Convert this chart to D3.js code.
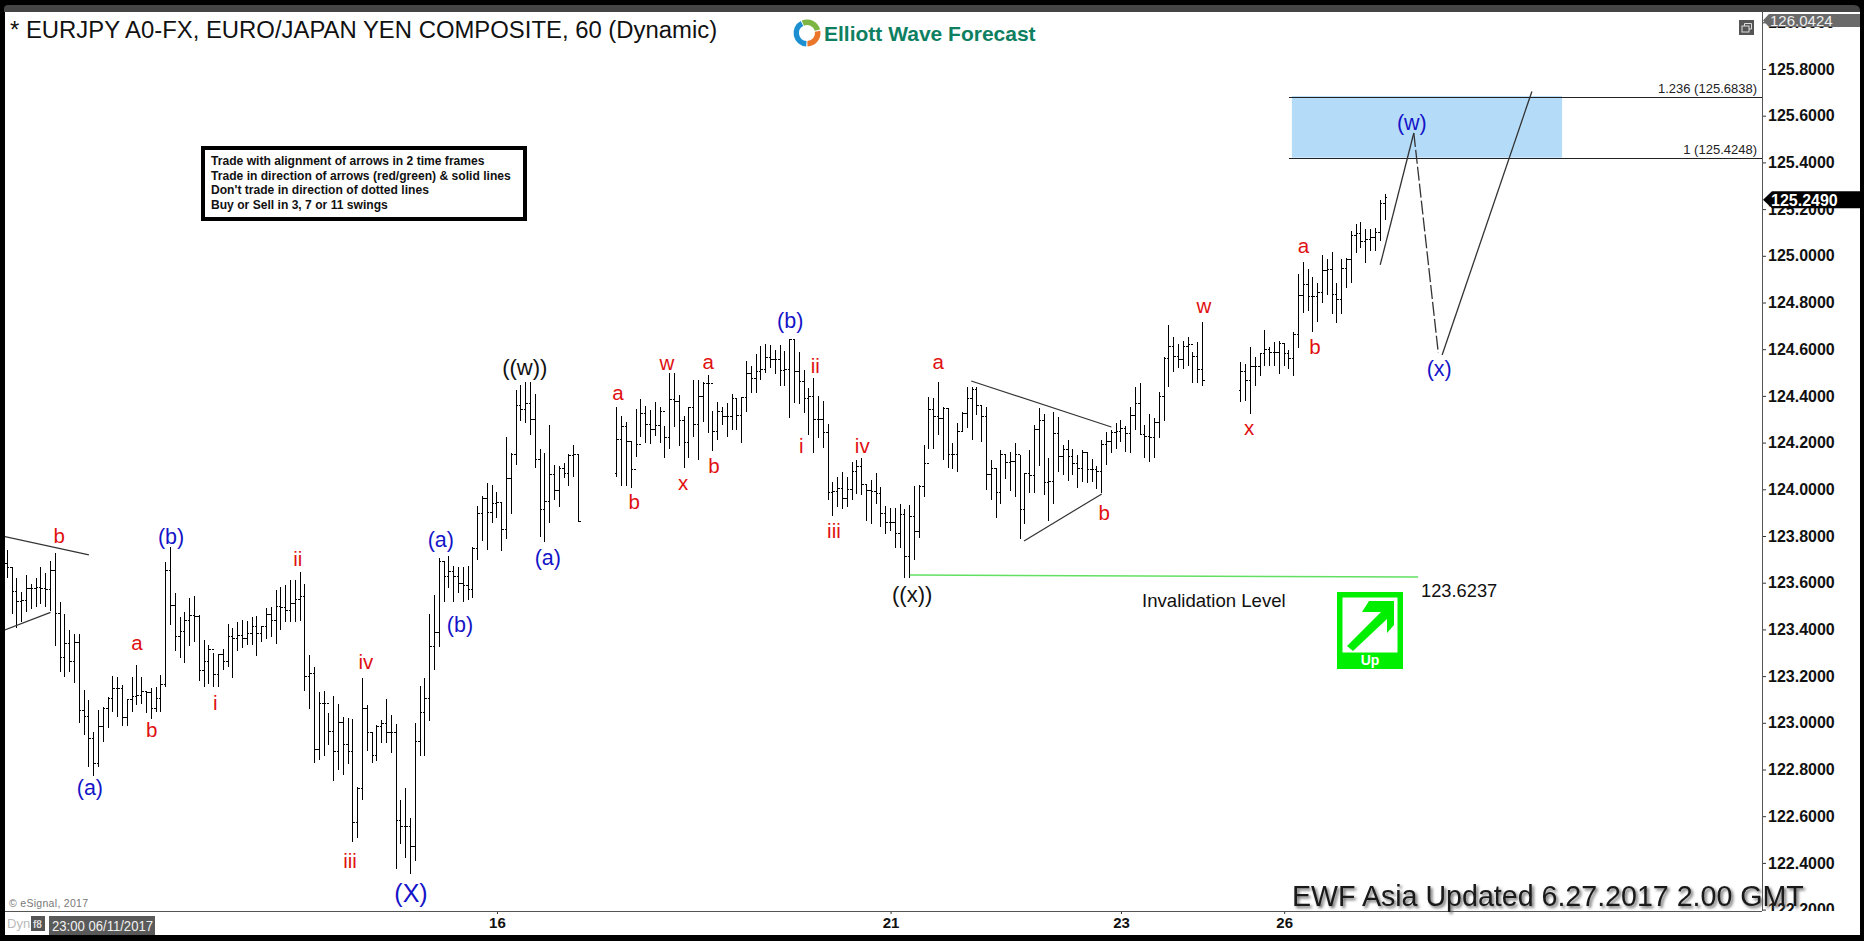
<!DOCTYPE html>
<html>
<head>
<meta charset="utf-8">
<title>EURJPY 60</title>
<script src="https://cdn.jsdelivr.net/npm/d3@7/dist/d3.min.js"></script>
<style>
  html, body { margin: 0; padding: 0; background: #000; overflow: hidden; }
  text { font-family: "Liberation Sans", Arial, sans-serif; }
  .yaxis text { font-size: 16px; font-weight: bold; fill: #111; }
  .xaxis text { font-size: 15px; font-weight: bold; fill: #111; }
  .yaxis path, .xaxis path { display: none; }
  .yaxis line, .xaxis line { stroke: #333; }
</style>
</head>
<body>
<svg id="chart" width="1864" height="941"></svg>
<script>
// hourly bars. null = hole in the feed
const _ = null;
const opens = [
  123.683,123.666,123.562,123.519,123.523,123.575,123.576,123.580,123.576,123.569,
  123.652,123.469,123.281,123.340,123.262,123.345,123.052,123.029,122.934,122.827,
  122.986,123.062,123.102,123.148,123.148,123.024,123.098,123.112,123.115,123.133,
  123.131,123.062,123.105,123.162,123.652,123.503,123.369,123.390,123.440,123.458,
  123.455,123.226,123.262,123.312,123.205,123.291,123.262,123.369,123.362,123.376,
  123.362,123.383,123.412,123.383,123.412,123.462,123.440,123.500,123.495,123.480,
  123.509,123.526,123.540,123.198,123.212,122.884,123.081,123.081,122.962,122.877,
  123.001,122.905,122.877,122.574,122.719,123.062,122.958,122.862,122.986,122.998,
  122.958,122.958,122.581,122.555,122.555,122.470,122.922,123.045,123.102,123.326,
  123.388,123.690,123.626,123.647,123.626,123.597,123.590,123.569,123.747,123.897,
  123.962,123.902,123.940,123.943,123.829,124.047,124.151,124.361,124.340,124.368,
  124.301,124.129,123.912,123.947,124.064,123.994,124.090,124.069,124.143,124.147,
  _,_,_,_,_,_,_,
  124.069,124.214,124.271,124.204,124.086,124.193,124.326,124.276,124.254,124.273,
  124.333,124.223,124.383,124.376,124.294,124.201,124.351,124.276,124.397,124.454,
  124.451,124.247,124.333,124.311,124.311,124.390,124.318,124.394,124.497,124.476,
  124.504,124.511,124.565,124.554,124.554,124.508,124.514,124.643,124.504,124.461,
  124.390,124.397,124.297,124.300,124.243,123.986,123.990,124.004,123.962,124.000,
  124.076,124.097,124.022,123.993,123.990,123.983,123.897,123.859,123.857,123.809,
  123.890,123.712,123.883,123.819,124.014,124.111,124.340,124.311,124.304,124.347,
  124.147,124.147,124.247,124.326,124.387,124.426,124.361,124.311,124.062,124.090,
  123.986,124.151,124.116,124.119,124.147,123.912,124.066,124.059,124.254,124.294,
  124.029,124.033,124.237,124.140,124.169,124.140,124.111,124.090,124.159,124.086,
  124.083,124.076,124.190,124.204,124.243,124.247,124.259,124.240,124.314,124.368,
  124.233,124.226,124.223,124.286,124.397,124.561,124.611,124.568,124.554,124.611,124.618,124.568,124.511,
  _,_,_,_,_,_,_,
  124.423,124.504,124.466,124.528,124.528,124.583,124.600,124.586,124.586,124.625,
  124.583,124.561,124.665,124.832,124.875,124.825,124.825,124.842,124.937,124.940,
  124.835,124.814,124.947,124.985,125.089,125.094,125.061,125.068,125.079,125.099,125.222
];
const highs = [
  123.740,123.666,123.619,123.559,123.632,123.595,123.622,123.666,123.643,123.693,
  123.726,123.516,123.465,123.398,123.380,123.380,123.141,123.098,122.962,123.055,
  123.069,123.109,123.201,123.198,123.162,123.101,123.195,123.246,123.195,123.138,
  123.148,123.152,123.203,123.687,123.752,123.555,123.452,123.473,123.535,123.542,
  123.462,123.355,123.333,123.301,123.295,123.316,123.422,123.405,123.433,123.440,
  123.438,123.455,123.458,123.416,123.490,123.498,123.569,123.583,123.590,123.612,
  123.612,123.645,123.595,123.291,123.238,123.132,123.136,123.041,123.115,123.081,
  123.024,123.019,123.018,122.727,123.191,123.075,122.959,122.989,123.012,123.101,
  123.034,122.994,122.670,122.719,122.591,122.998,123.158,123.191,123.465,123.547,
  123.705,123.693,123.716,123.673,123.669,123.669,123.673,123.752,123.929,123.973,
  124.026,124.019,123.987,123.944,124.224,124.154,124.426,124.447,124.461,124.461,
  124.408,124.173,124.154,124.276,124.104,124.101,124.111,124.150,124.190,124.147,
  _,_,_,_,_,_,_,
  124.354,124.316,124.287,124.207,124.343,124.386,124.358,124.340,124.376,124.351,
  124.269,124.497,124.497,124.404,124.316,124.351,124.467,124.467,124.461,124.488,
  124.336,124.376,124.351,124.368,124.408,124.393,124.397,124.550,124.528,124.580,
  124.614,124.623,124.618,124.597,124.618,124.594,124.645,124.643,124.590,124.511,
  124.433,124.476,124.400,124.378,124.279,124.033,124.054,124.073,124.054,124.119,
  124.126,124.133,124.022,124.040,124.069,124.009,123.929,123.919,123.919,123.936,
  123.916,123.933,124.012,124.019,124.190,124.394,124.390,124.458,124.351,124.347,
  124.197,124.283,124.333,124.437,124.440,124.437,124.361,124.351,124.126,124.090,
  124.169,124.151,124.161,124.197,124.147,124.069,124.169,124.276,124.350,124.321,
  124.133,124.330,124.311,124.190,124.209,124.173,124.147,124.169,124.159,124.130,
  124.101,124.209,124.247,124.254,124.283,124.297,124.269,124.354,124.437,124.454,
  124.276,124.321,124.304,124.416,124.568,124.704,124.654,124.623,124.637,124.654,124.590,124.630,124.715,
  _,_,_,_,_,_,_,
  124.544,124.537,124.608,124.568,124.583,124.683,124.611,124.630,124.637,124.625,
  124.597,124.673,124.922,124.972,124.942,124.908,124.882,125.004,124.985,125.015,
  124.882,124.987,124.990,125.107,125.137,125.144,125.114,125.114,125.118,125.239,125.265
];
const lows = [
  123.622,123.466,123.405,123.433,123.476,123.488,123.498,123.509,123.498,123.479,
  123.330,123.219,123.198,123.219,123.169,123.001,122.948,122.812,122.772,122.809,
  122.919,122.979,123.048,123.026,122.986,122.986,123.048,123.076,123.081,123.041,
  123.016,123.048,123.045,123.152,123.419,123.309,123.276,123.258,123.330,123.348,
  123.181,123.152,123.166,123.152,123.152,123.226,123.241,123.193,123.309,123.319,
  123.333,123.333,123.288,123.348,123.359,123.369,123.338,123.398,123.430,123.430,
  123.433,123.438,123.138,123.061,122.829,122.841,122.859,122.905,122.752,122.798,
  122.778,122.824,122.491,122.505,122.670,122.881,122.827,122.838,122.912,122.912,
  122.869,122.373,122.481,122.423,122.351,122.410,122.859,122.858,123.009,123.226,
  123.326,123.519,123.579,123.519,123.555,123.519,123.526,123.536,123.697,123.780,
  123.740,123.857,123.876,123.737,123.787,123.894,124.104,124.294,124.283,124.233,
  124.090,123.797,123.776,123.857,123.954,123.926,124.047,124.016,124.052,123.862,
  _,_,_,_,_,_,_,
  124.054,124.016,124.016,124.007,124.137,124.226,124.197,124.194,124.229,124.197,
  124.136,124.173,124.266,124.186,124.090,124.136,124.226,124.126,124.287,124.243,
  124.166,124.211,124.276,124.226,124.254,124.254,124.200,124.333,124.414,124.414,
  124.468,124.497,124.518,124.494,124.443,124.443,124.307,124.368,124.366,124.326,
  124.233,124.157,124.219,124.176,123.954,123.886,123.926,123.914,123.926,123.954,
  123.980,123.976,123.866,123.852,123.937,123.840,123.807,123.822,123.747,123.747,
  123.619,123.619,123.697,123.790,123.969,124.173,124.173,124.233,124.126,124.090,
  124.086,124.076,124.247,124.264,124.211,124.318,124.204,123.997,123.954,123.879,
  123.937,124.044,123.994,123.969,123.787,123.852,123.986,123.986,124.100,123.976,
  123.866,123.937,124.073,124.062,124.036,124.062,124.007,124.030,124.029,124.033,
  124.000,123.983,124.104,124.157,124.173,124.204,124.161,124.157,124.254,124.233,
  124.136,124.119,124.136,124.219,124.294,124.436,124.504,124.518,124.515,124.528,124.454,124.454,124.444,
  _,_,_,_,_,_,_,
  124.376,124.380,124.323,124.444,124.486,124.526,124.526,124.526,124.494,124.526,
  124.516,124.487,124.607,124.757,124.764,124.675,124.718,124.797,124.832,124.751,
  124.714,124.751,124.864,124.882,125.014,125.032,124.968,125.022,125.022,125.064,125.154
];
const closes = [
  123.666,123.562,123.519,123.523,123.575,123.576,123.580,123.576,123.569,123.652,
  123.469,123.281,123.340,123.262,123.345,123.052,123.029,122.934,122.827,122.986,
  123.062,123.102,123.148,123.148,123.024,123.098,123.112,123.115,123.133,123.131,
  123.062,123.105,123.162,123.652,123.503,123.369,123.390,123.440,123.458,123.455,
  123.226,123.262,123.312,123.205,123.291,123.262,123.369,123.362,123.376,123.362,
  123.383,123.412,123.383,123.412,123.462,123.440,123.500,123.495,123.480,123.509,
  123.526,123.540,123.198,123.212,122.884,123.081,123.081,122.962,122.877,123.001,
  122.905,122.877,122.574,122.719,123.062,122.958,122.862,122.986,122.998,122.958,
  122.958,122.581,122.555,122.555,122.470,122.922,123.045,123.102,123.326,123.388,
  123.690,123.626,123.647,123.626,123.597,123.590,123.569,123.747,123.897,123.962,
  123.902,123.940,123.943,123.829,124.047,124.151,124.361,124.340,124.368,124.301,
  124.129,123.912,123.947,124.064,123.994,124.090,124.069,124.143,124.147,123.862,
  _,_,_,_,_,_,_,
  124.214,124.271,124.204,124.086,124.193,124.326,124.276,124.254,124.273,124.333,
  124.223,124.383,124.376,124.294,124.201,124.351,124.276,124.397,124.454,124.451,
  124.247,124.333,124.311,124.311,124.390,124.318,124.394,124.497,124.476,124.504,
  124.511,124.565,124.554,124.554,124.508,124.514,124.643,124.504,124.461,124.390,
  124.397,124.297,124.300,124.243,123.986,123.990,124.004,123.962,124.000,124.076,
  124.097,124.022,123.993,123.990,123.983,123.897,123.859,123.857,123.809,123.890,
  123.712,123.883,123.819,124.014,124.111,124.340,124.311,124.304,124.347,124.147,
  124.147,124.247,124.326,124.387,124.426,124.361,124.311,124.062,124.090,123.986,
  124.151,124.116,124.119,124.147,123.912,124.066,124.059,124.254,124.294,124.029,
  124.033,124.237,124.140,124.169,124.140,124.111,124.090,124.159,124.086,124.083,
  124.076,124.190,124.204,124.243,124.247,124.259,124.240,124.314,124.368,124.233,
  124.226,124.223,124.286,124.397,124.561,124.611,124.568,124.554,124.611,124.618,124.568,124.511,124.468,
  _,_,_,_,_,_,_,
  124.504,124.466,124.528,124.528,124.583,124.600,124.586,124.586,124.625,124.583,
  124.561,124.665,124.832,124.875,124.825,124.825,124.842,124.937,124.940,124.835,
  124.814,124.947,124.985,125.089,125.094,125.061,125.068,125.079,125.099,125.222,125.249
];

const priceTicks = [122.2,122.4,122.6,122.8,123,123.2,123.4,123.6,123.8,124,124.2,124.4,124.6,124.8,125,125.2,125.4,125.6,125.8,126];
const dayBars = [102, 184, 232, 266];
const dayLabels = ['16', '21', '23', '26'];

// wave counts: [text, bar, price]
const redWaves = [
  ['b',10.8,123.8],['a',27,123.342],['b',30.1,122.969],['i',43.3,123.085],['ii',60.5,123.702],
  ['iv',74.7,123.26],['iii',71.4,122.408],['a',127.2,124.412],['b',130.6,123.946],['w',137.4,124.541],
  ['x',140.8,124.027],['a',146,124.545],['b',147.2,124.1],['ii',168.3,124.528],['i',165.4,124.185],
  ['iii',172.2,123.821],['iv',178.1,124.185],['a',193.9,124.545],['b',228.5,123.899],['w',249.3,124.785],
  ['x',258.7,124.263],['a',270,125.042],['b',272.4,124.609]
];
const blueWaves = [
  ['(b)',34.1,123.796],['(a)',17.2,122.725],['(a)',90.3,123.787],['(b)',94.3,123.423],['(a)',112.6,123.706],
  ['(b)',163.1,124.725],['(x)',298.3,124.519],['(w)',292.6,125.573]
];
const bigWave = ['(X)',84.1,122.271];
const blackWaves = [['((w))',107.8,124.524],['((x))',188.5,123.552]];

// trend lines as [bar, price] pairs
const trendLines = [
  [[-0.5,123.797],[17,123.719]],
  [[-0.55,123.397],[9,123.473]],
  [[200.8,124.464],[230,124.267]],
  [[211.8,123.779],[228,123.98]]
];
const forecastUp = [[286,124.961],[293,125.526]];
const forecastDash = [[293,125.526],[298.1,124.584]];
const forecastUp2 = [[298.9,124.575],[317.6,125.704]];
const invalidLine = [[188,123.633],[293.9,123.624]];
const fibLevels = [
  { label: '1.236 (125.6838)', price: 125.6838 },
  { label: '1 (125.4248)', price: 125.4248 }
];
const noteLines = [
  'Trade with alignment of arrows in 2 time frames',
  'Trade in direction of arrows (red/green) & solid lines',
  "Don't trade in direction of dotted lines",
  'Buy or Sell in 3, 7 or 11 swings'
];
const lastPrice = 125.249;

const svg = d3.select('#chart');
const plotL = 5, plotT = 12, plotR = 1762, plotB = 911;

const x = d3.scaleLinear().domain([0, 287]).range([7.33, 1385]);
const y = d3.scaleLinear().domain([122.2, 125.8]).range([909.6, 69]);

// frame
svg.append('rect').attr('width', 1864).attr('height', 941).attr('fill', '#000');
svg.append('path')
  .attr('d', 'M4,12 V9 Q4,5 8,5 H1854 Q1860,5 1860,11 V12 Z')
  .attr('fill', '#454545');
svg.append('rect').attr('x', plotL).attr('y', plotT).attr('width', 1860 - plotL).attr('height', 935 - plotT).attr('fill', '#fff');

const defs = svg.append('defs');
defs.append('clipPath').attr('id', 'plotClip').append('rect')
  .attr('x', plotL).attr('y', plotT).attr('width', plotR - plotL).attr('height', plotB - plotT);
defs.append('clipPath').attr('id', 'axisClip').append('rect')
  .attr('x', plotR).attr('y', plotT).attr('width', 1860 - plotR).attr('height', plotB - plotT);

const plot = svg.append('g').attr('clip-path', 'url(#plotClip)');

// fib box
plot.append('rect')
  .attr('x', x(267.6)).attr('width', x(323.9) - x(267.6))
  .attr('y', y(fibLevels[0].price)).attr('height', y(fibLevels[1].price) - y(fibLevels[0].price) + 1)
  .attr('fill', '#b4dcf8');
plot.selectAll('.fib').data(fibLevels).join('line')
  .attr('x1', x(267)).attr('x2', plotR)
  .attr('y1', d => Math.round(y(d.price)) + 1.5).attr('y2', d => Math.round(y(d.price)) + 1.5)
  .attr('stroke', '#222').attr('stroke-width', 1);
plot.selectAll('.fibLabel').data(fibLevels).join('text')
  .attr('x', plotR - 5).attr('y', d => y(d.price) - 3)
  .attr('text-anchor', 'end').attr('font-size', 13).attr('fill', '#222')
  .text(d => d.label);

// bars
const bars = d3.range(highs.length).filter(i => highs[i] !== null);
const barG = plot.append('g').attr('stroke', '#000').attr('shape-rendering', 'crispEdges');
barG.selectAll('.hl').data(bars).join('line')
  .attr('x1', i => x(i)).attr('x2', i => x(i))
  .attr('y1', i => y(highs[i])).attr('y2', i => y(lows[i]));
barG.selectAll('.op').data(bars).join('line')
  .attr('x1', i => x(i) - 2).attr('x2', i => x(i))
  .attr('y1', i => y(opens[i])).attr('y2', i => y(opens[i]));
barG.selectAll('.cl').data(bars).join('line')
  .attr('x1', i => x(i)).attr('x2', i => x(i) + 2)
  .attr('y1', i => y(closes[i])).attr('y2', i => y(closes[i]));

// lines
const lineGen = d3.line().x(d => x(d[0])).y(d => y(d[1]));
plot.selectAll('.trend').data(trendLines).join('path')
  .attr('d', lineGen).attr('fill', 'none').attr('stroke', '#333').attr('stroke-width', 1.2);
plot.append('path').attr('d', lineGen(forecastUp)).attr('fill', 'none').attr('stroke', '#333').attr('stroke-width', 1.3);
plot.append('path').attr('d', lineGen(forecastDash)).attr('fill', 'none').attr('stroke', '#333').attr('stroke-width', 1.3).attr('stroke-dasharray', '14,3');
plot.append('path').attr('d', lineGen(forecastUp2)).attr('fill', 'none').attr('stroke', '#333').attr('stroke-width', 1.3);
plot.append('path').attr('d', lineGen(invalidLine)).attr('fill', 'none').attr('stroke', '#62e062').attr('stroke-width', 1.5);

// wave labels
function waveText(rows, color, size) {
  plot.append('g').selectAll('text').data(rows).join('text')
    .attr('x', d => x(d[1])).attr('y', d => y(d[2]))
    .attr('text-anchor', 'middle').attr('dy', '0.35em')
    .attr('font-size', size).attr('fill', color)
    .text(d => d[0]);
}
waveText(redWaves, '#e01010', 20.5);
waveText(blueWaves, '#1414c8', 21.5);
waveText([bigWave], '#1414c8', 25);
waveText(blackWaves, '#111', 22);

// note box
svg.append('rect').attr('x', 203).attr('y', 148).attr('width', 322).attr('height', 71)
  .attr('fill', '#fff').attr('stroke', '#000').attr('stroke-width', 4);
svg.append('g').selectAll('text').data(noteLines).join('text')
  .attr('x', 211).attr('y', (d, i) => 165 + i * 14.7)
  .attr('font-size', 12.1).attr('font-weight', 'bold').attr('fill', '#111')
  .text(d => d);

// title + logo
svg.append('text').attr('x', 10).attr('y', 38).attr('font-size', 23.88).attr('fill', '#111')
  .text('* EURJPY A0-FX, EURO/JAPAN YEN COMPOSITE, 60 (Dynamic)');
const arc = d3.arc().innerRadius(8).outerRadius(13.5);
const logo = svg.append('g').attr('transform', 'translate(807,33)');
[[-0.4, 1.3, '#7db543'], [1.4, 3.1, '#e9762b'], [3.2, 5.8, '#1c8fd0']].forEach(a => {
  logo.append('path').attr('d', arc({ startAngle: a[0], endAngle: a[1] })).attr('fill', a[2]);
});
svg.append('text').attr('x', 824).attr('y', 41).attr('font-size', 21).attr('font-weight', 'bold').attr('fill', '#0f7f62')
  .text('Elliott Wave Forecast');

// invalidation text + icon
svg.append('text').attr('x', 1142).attr('y', 607).attr('font-size', 18.6).attr('fill', '#111').text('Invalidation Level');
svg.append('text').attr('x', 1421).attr('y', 597).attr('font-size', 18.3).attr('fill', '#111').text('123.6237');
const up = svg.append('g').attr('transform', 'translate(1337,592)');
up.append('rect').attr('width', 66).attr('height', 77).attr('fill', '#00ee00');
up.append('rect').attr('x', 5.5).attr('y', 5.5).attr('width', 55).attr('height', 55).attr('fill', '#fff');
up.append('path').attr('d', 'M10,54 L44,20 H25 L32,9 H57 V33 L50,41 V27 L16,59 Z').attr('fill', '#00ee00');
up.append('text').attr('x', 33).attr('y', 73).attr('text-anchor', 'middle').attr('font-size', 14).attr('font-weight', 'bold').attr('fill', '#fff').text('Up');

// axes
const axisR = svg.append('g').attr('clip-path', 'url(#axisClip)');
axisR.append('g').attr('class', 'yaxis').attr('transform', `translate(${plotR},0)`)
  .call(d3.axisRight(y).tickValues(priceTicks).tickSize(4).tickPadding(2).tickFormat(d3.format('.4f')));
svg.append('g').attr('class', 'xaxis').attr('transform', `translate(0,${plotB})`)
  .call(d3.axisBottom(x).tickValues(dayBars).tickSize(3).tickPadding(3).tickFormat((d, i) => dayLabels[i]));
svg.append('line').attr('x1', plotR + 0.5).attr('x2', plotR + 0.5).attr('y1', plotT).attr('y2', plotB).attr('stroke', '#555');
svg.append('line').attr('x1', plotL).attr('x2', plotR).attr('y1', plotB + 0.5).attr('y2', plotB + 0.5).attr('stroke', '#555');

// price tags
svg.append('path').attr('d', 'M1763,20.5 L1769,14 H1860 V27 H1769 Z').attr('fill', '#6a6a6a');
svg.append('text').attr('x', 1770).attr('y', 26).attr('font-size', 15).attr('fill', '#eee').text('126.0424');
const tagY = y(lastPrice) + 2;
svg.append('path').attr('d', `M1763,${tagY} L1772,${tagY - 8.5} H1860 V${tagY + 8.5} H1772 Z`).attr('fill', '#000');
svg.append('text').attr('x', 1771).attr('y', tagY + 6).attr('font-size', 16).attr('font-weight', 'bold').attr('fill', '#fff').text(d3.format('.4f')(lastPrice));

// window button
const win = svg.append('g').attr('transform', 'translate(1739,20)');
win.append('rect').attr('width', 15).attr('height', 15).attr('fill', '#555');
win.append('rect').attr('x', 3).attr('y', 6).attr('width', 7).attr('height', 6).attr('fill', 'none').attr('stroke', '#ddd');
win.append('path').attr('d', 'M5.5,6 V3.5 H12.5 V9 H10').attr('fill', 'none').attr('stroke', '#ddd');

// footer bits
svg.append('text').attr('x', 9).attr('y', 907).attr('font-size', 10.5).attr('fill', '#777').attr('letter-spacing', 0.3).text('© eSignal, 2017');
svg.append('text').attr('x', 7).attr('y', 928).attr('font-size', 13).attr('fill', '#bbb').text('Dyn');
svg.append('rect').attr('x', 31).attr('y', 916).attr('width', 14).attr('height', 15).attr('fill', '#555');
svg.append('text').attr('x', 33).attr('y', 928).attr('font-size', 10).attr('font-weight', 'bold').attr('fill', '#ddd').text('f8');
svg.append('rect').attr('x', 49).attr('y', 916).attr('width', 106).attr('height', 19).attr('fill', '#5a5a5a');
svg.append('text').attr('x', 52).attr('y', 931).attr('font-size', 14).attr('textLength', 101).attr('lengthAdjust', 'spacingAndGlyphs').attr('fill', '#f2f2f2').text('23:00 06/11/2017');

svg.append('text').attr('x', 1292).attr('y', 906).attr('font-size', 28.6).attr('fill', '#1a1a1a')
  .style('filter', 'drop-shadow(2px 2px 1.5px #666)')
  .text('EWF Asia Updated 6.27.2017 2.00 GMT');
</script>
</body>
</html>
